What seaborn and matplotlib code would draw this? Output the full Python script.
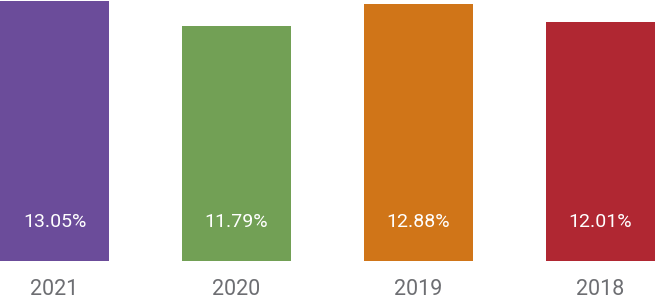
import matplotlib
matplotlib.use("Agg")
import matplotlib.pyplot as plt
import seaborn as sns
import pandas as pd

years = ["2021", "2020", "2019", "2018"]
values = [13.05, 11.79, 12.88, 12.01]
labels = ["13.05%", "11.79%", "12.88%", "12.01%"]
colors = ["#6B4C9A", "#72A055", "#D07518", "#B02732"]

sns.set_theme(style="white")
plt.rcParams['font.family'] = ['Roboto', 'DejaVu Sans']

df = pd.DataFrame({"year": years, "value": values})

fig = plt.figure(figsize=(6.55, 3.08), dpi=100)
ax = fig.add_axes([0, 47/308, 1, 261/308])
sns.barplot(data=df, x="year", y="value", hue="year", palette=colors,
            order=years, hue_order=years, width=0.6, legend=False,
            saturation=1, ax=ax, linewidth=0)

ax.set_xlim(-0.3, 3.3)
ax.set_ylim(0, 13.1)
for s in ax.spines.values():
    s.set_visible(False)
ax.set_yticks([])
ax.set_xlabel("")
ax.set_ylabel("")
ax.tick_params(axis="x", length=0, pad=13, labelsize=15.5, labelcolor="#6D6E72")

for i, lab in enumerate(labels):
    ax.text(i, 1.97, lab, ha="center", va="center", color="white", fontsize=14)

fig.savefig("out.png", dpi=100)
